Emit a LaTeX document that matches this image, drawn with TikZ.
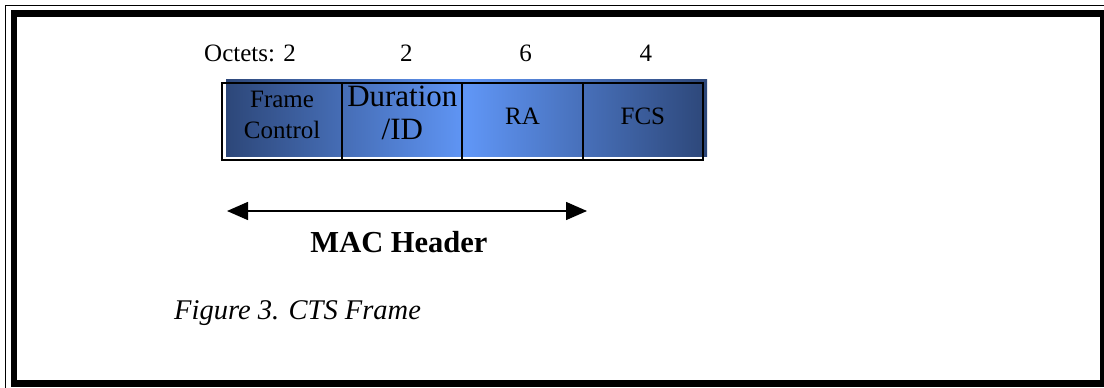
\documentclass[tikz,border=0pt]{standalone}
\usepackage{fontspec}
\setmainfont{Liberation Serif}
\usetikzlibrary{arrows.meta,positioning}
\definecolor{navyblu}{RGB}{45,71,121}
\definecolor{liteblu}{RGB}{96,150,246}

\begin{document}
\begin{tikzpicture}[x=1pt,y=-1pt,
        field/.style={draw,line width=2pt,minimum width=120.25pt,minimum height=77pt,inner sep=0pt,outer sep=0pt},
        fieldtxt/.style={inner sep=0pt,align=center,font=\fontsize{25}{31.5}\selectfont},
        octet/.style={inner sep=0pt,anchor=base,font=\fontsize{25}{30}\selectfont},
        >={Triangle[length=21pt,width=18pt]}]
    \useasboundingbox (0,0) rectangle (1104,388);
    % double border
    \draw[line width=1.2pt] (5.5,5.5) rectangle (1112,396);
    \draw[line width=6.5pt] (14,13.5) rectangle (1103.5,383.5);
    % frame fields
    \shade[left color=navyblu,right color=navyblu,middle color=liteblu] (226,79) rectangle (707,156);
    \node[field] (fc) at (282.1,121.5) {};
    \node[field,right=0pt of fc] (dur) {};
    \node[field,right=0pt of dur] (ra) {};
    \node[field,right=0pt of ra] (fcs) {};
    \node[fieldtxt,yshift=6.5] (fctxt) at (fc) {Frame\\Control};
    \node[fieldtxt,yshift=8.5,font=\fontsize{31}{33}\selectfont] (durtxt) at (dur) {Duration\\/ID};
    \node[fieldtxt,yshift=5] (ratxt) at (ra) {RA};
    \node[fieldtxt,yshift=5] (fcstxt) at (fcs) {FCS};
    % octet counts
    \node[octet,anchor=base west] (o1) at (204,61) {Octets: 2};
    \node[octet] (o2) at ([xshift=4]dur.center |- 0,61) {2};
    \node[octet] (o3) at ([xshift=3]ra.center |- 0,61) {6};
    \node[octet] (o4) at ([xshift=3]fcs.center |- 0,61) {4};
    % header span
    \coordinate (h1) at (227,211);
    \coordinate (h2) at (587,211);
    \draw[line width=1.5pt,<->] (h1) -- (h2);
    \node[inner sep=0pt,anchor=base,font=\fontsize{30.5}{36}\selectfont\bfseries] (mac) at (399,252) {MAC Header};
    \node[inner sep=0pt,anchor=base west,font=\fontsize{28.5}{34}\selectfont\itshape] (cap) at (174,319) {Figure 3. CTS Frame};
\end{tikzpicture}
\end{document}
